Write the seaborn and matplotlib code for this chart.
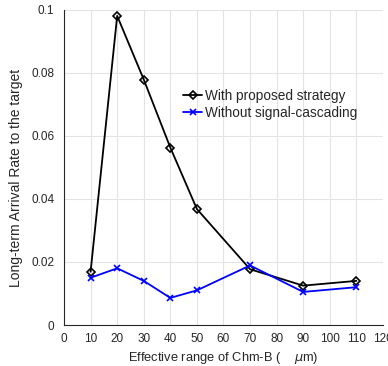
import matplotlib
matplotlib.use("Agg")
import matplotlib.pyplot as plt
import seaborn as sns
import pandas as pd
from matplotlib.ticker import FixedLocator, FixedFormatter

x_vals = [10, 20, 30, 40, 50, 70, 90, 110]
with_strategy = [0.0169, 0.0981, 0.0779, 0.0563, 0.0368, 0.0177, 0.0125, 0.0140]
without_cascading = [0.0150, 0.0180, 0.0140, 0.0086, 0.0110, 0.0189, 0.0105, 0.0120]
series_names = ["With proposed strategy", "Without signal-cascading"]
x_ticks = list(range(0, 121, 10))
y_ticks = [0, 0.02, 0.04, 0.06, 0.08, 0.1]
y_tick_labels = ["0", "0.02", "0.04", "0.06", "0.08", "0.1"]

sns.set_style("white")
plt.rcParams['font.family'] = ['Liberation Sans', 'DejaVu Sans']

df = pd.DataFrame({
    "x": x_vals * 2,
    "y": with_strategy + without_cascading,
    "series": [series_names[0]] * len(x_vals) + [series_names[1]] * len(x_vals),
})

fig = plt.figure(figsize=(3.88, 3.66), dpi=100)
ax = fig.add_axes([0.165, 0.112, 0.822, 0.861])

palette = {series_names[0]: "black", series_names[1]: "#0000ff"}
markers = {series_names[0]: "D", series_names[1]: "x"}
for name in series_names:
    sub = df[df["series"] == name]
    sns.lineplot(data=sub, x="x", y="y", ax=ax, color=palette[name],
                 marker=markers[name], markersize=4.5,
                 markerfacecolor="none" if name == series_names[0] else palette[name],
                 markeredgecolor=palette[name], markeredgewidth=1.2,
                 linewidth=1.3, label=name, legend=False)

ax.set_xlim(0, 120)
ax.set_ylim(0, 0.1)
ax.xaxis.set_major_locator(FixedLocator(x_ticks))
ax.yaxis.set_major_locator(FixedLocator(y_ticks))
ax.yaxis.set_major_formatter(FixedFormatter(y_tick_labels))
ax.grid(True, color="#e3e3e3", linewidth=0.8)
ax.set_axisbelow(True)
for s in ["top", "right"]:
    ax.spines[s].set_visible(False)
for s in ["left", "bottom"]:
    ax.spines[s].set_color("#262626")
    ax.spines[s].set_linewidth(0.8)
ax.tick_params(direction="in", length=3, width=0.6, colors="#262626",
               labelsize=8.5, labelcolor="#262626")
ax.tick_params(axis="x", pad=5.5)
ax.tick_params(axis="y", pad=7)
ax.set_xlabel("Effective range of Chm-B (    $\\mu$m)", fontsize=9.3, color="#262626", labelpad=4)
ax.set_ylabel("Long-term Arrival Rate to the target", fontsize=10, color="#262626")
ax.yaxis.set_label_coords(-0.128, 0.467)

handles, labels = ax.get_legend_handles_labels()
leg = ax.legend(handles, labels, loc="center left", bbox_to_anchor=(0.373, 0.700),
                frameon=False, fontsize=9.8, handlelength=1.4, handletextpad=0.2,
                labelspacing=0.25, borderpad=0, borderaxespad=0)

fig.savefig("out.png", dpi=100)
